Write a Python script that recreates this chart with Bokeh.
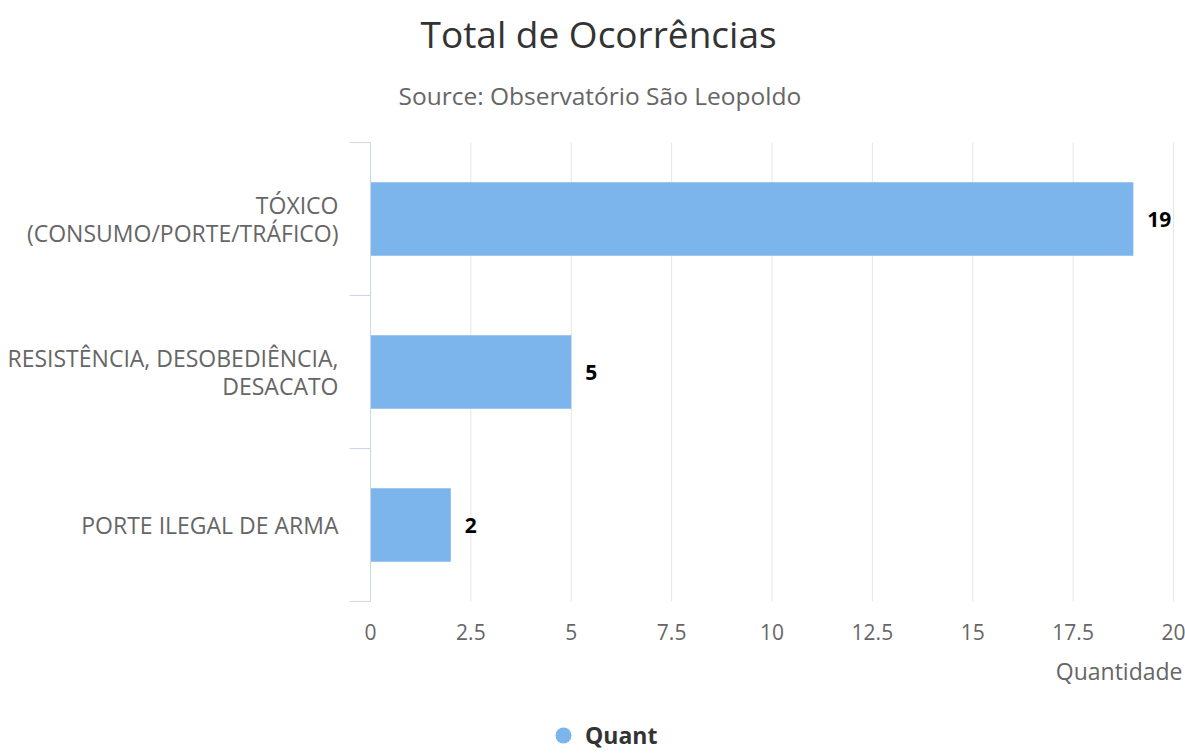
from bokeh.plotting import figure
from bokeh.models import (ColumnDataSource, Range1d, FixedTicker, Title, Legend, LegendItem)
from bokeh.core.properties import value
from bokeh.embed import file_html
from bokeh.resources import INLINE

# ---- data ----
categories = ["TÓXICO\n(CONSUMO/PORTE/TRÁFICO)",
              "RESISTÊNCIA, DESOBEDIÊNCIA,\nDESACATO",
              "PORTE ILEGAL DE ARMA"]
quant = [19, 5, 2]
x_ticks = [0, 2.5, 5, 7.5, 10, 12.5, 15, 17.5, 20]
x_tick_labels = ["0", "2.5", "5", "7.5", "10", "12.5", "15", "17.5", "20"]
x_max = 20
title_text = "Total de Ocorrências"
subtitle_text = "Source: Observatório São Leopoldo"
x_title = "Quantidade"
series_name = "Quant"

FONT = "Open Sans"
BAR = "#7cb5ec"
n = len(categories)
centers = [i + 0.5 for i in range(n)]
bounds = [i for i in range(n + 1)]

# ---- layout (pixels) ----
W, H = 1185, 755
X0_PX = 370         # pixel of value 0
X_END_PX = 1173     # pixel of value x_max
FT = 130            # frame top
CAT_TOP, CAT_BOT = 142, 601
px_cat = (CAT_BOT - CAT_TOP) / n
px_x = (X_END_PX - X0_PX) / x_max
x_start = -X0_PX / px_x
x_end = (W - X0_PX) / px_x
y_top = -(CAT_TOP - FT) / px_cat
y_bot = n + (H - CAT_BOT) / px_cat

src = ColumnDataSource(dict(y=centers, q=quant, lbl=[str(v) for v in quant]))

p = figure(width=W, height=H, output_backend="svg", toolbar_location=None,
           x_range=Range1d(x_start, x_end), y_range=Range1d(y_bot, y_top),
           min_border_left=0, min_border_right=0, min_border_top=FT,
           min_border_bottom=0, title=None)
p.outline_line_color = None
p.background_fill_color = "white"
p.border_fill_color = "white"
p.xgrid.grid_line_color = None
p.ygrid.grid_line_color = None

# vertical grid lines over the category area only
p.segment(x0=x_ticks, x1=x_ticks, y0=[0] * len(x_ticks), y1=[n] * len(x_ticks),
          line_color="#e6e6e6", line_width=1)

p.hbar(y="y", right="q", left=0, height=0.48, source=src, fill_color=BAR,
       line_color=None)
p.text(x="q", y="y", text="lbl", source=src, x_offset=14, text_baseline="middle",
       text_align="left", text_font=value(FONT), text_font_size="21px",
       text_font_style="bold", text_color="#000000")

# axis title, right aligned under the value axis end
p.text(x=[x_max], y=[n], text=[x_title], x_offset=9, y_offset=69,
       text_baseline="middle", text_align="right", text_font=value(FONT),
       text_font_size="23px", text_color="#666666")

# legend glyph (circle) – hidden copy of the series, shown only in the legend
leg_r = p.scatter(x="q", y="y", source=src, marker="circle", size=16,
                  fill_color=BAR, line_color=None, visible=False)

# x axis (drawn at the bottom of the category area)
xa = p.xaxis[0]
xa.fixed_location = n
xa.ticker = FixedTicker(ticks=x_ticks)
xa.major_label_overrides = {t: l for t, l in zip(x_ticks, x_tick_labels)}
xa.axis_line_color = None
xa.major_tick_out = 0
xa.major_tick_in = 0
xa.minor_tick_out = 0
xa.minor_tick_in = 0
xa.major_label_standoff = 22
xa.major_label_text_font = FONT
xa.major_label_text_font_size = "21px"
xa.major_label_text_color = "#666666"

# y axis (drawn at value 0)
ya = p.yaxis[0]
ya.fixed_location = 0
ya.bounds = (0, n)
ya.ticker = FixedTicker(ticks=centers, minor_ticks=bounds)
ya.major_label_overrides = {c: l for c, l in zip(centers, categories)}
ya.axis_line_color = "#ccd6eb"
ya.major_tick_out = 0
ya.major_tick_in = 0
ya.minor_tick_out = 21
ya.minor_tick_in = 0
ya.minor_tick_line_color = "#ccd6eb"
ya.major_label_standoff = 11
ya.major_label_text_font = FONT
ya.major_label_text_font_size = "23px"
ya.major_label_text_color = "#666666"
ya.major_label_text_line_height = 0.85

# titles (stacked outward from the frame)
p.add_layout(Title(text=subtitle_text, align="left", offset=398, text_font=FONT,
                   text_font_size="24.5px", text_font_style="normal",
                   text_color="#666666", standoff=37.2), "above")
p.add_layout(Title(text=title_text, align="left", offset=420, text_font=FONT,
                   text_font_size="37px", text_font_style="normal",
                   text_color="#333333", standoff=0), "above")

legend = Legend(items=[LegendItem(label=series_name, renderers=[leg_r])],
                location=(543, 0), orientation="horizontal",
                border_line_color=None, background_fill_alpha=0,
                inactive_fill_alpha=0,
                label_text_font=FONT, label_text_font_size="23px",
                label_text_font_style="bold", label_text_color="#333333",
                glyph_width=40, glyph_height=40, label_standoff=2,
                padding=0, margin=0)
p.add_layout(legend, "center")

open("out.html", "w").write(file_html(p, INLINE))
